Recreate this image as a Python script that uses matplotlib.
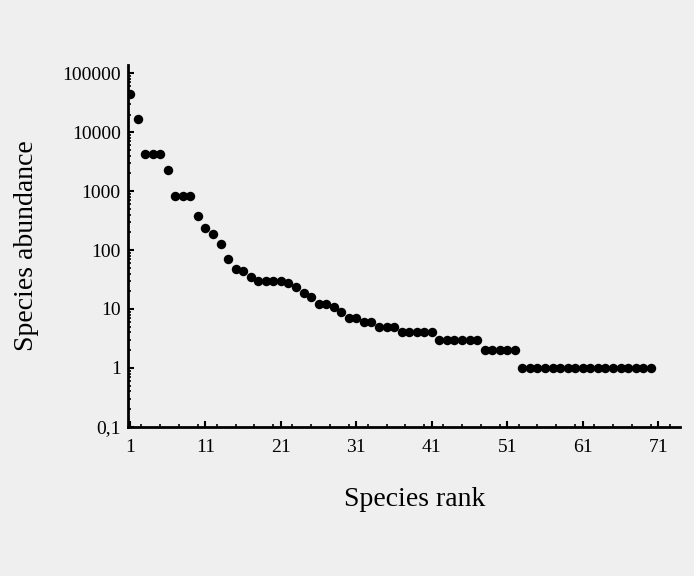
import numpy as np
import matplotlib
matplotlib.use('Agg')
import matplotlib.pyplot as plt
from matplotlib.ticker import FixedLocator, MultipleLocator, LogLocator, NullFormatter

# rank-abundance data
rank = list(range(1, 71))
abundance = ([45000, 17000, 4300, 4300, 4300, 2300, 820, 820, 820, 380,
              240, 190, 125, 70, 47, 45, 35, 30, 30, 30,
              30, 28, 24, 19, 16, 12, 12, 11, 9, 7,
              7, 6, 6, 5, 5, 5, 4, 4, 4, 4,
              4, 3, 3, 3, 3, 3, 3, 2, 2, 2,
              2, 2] + [1] * 18)

x_ticks = [1, 11, 21, 31, 41, 51, 61, 71]
y_ticks = [0.1, 1, 10, 100, 1000, 10000, 100000]
y_labels = ['0,1', '1', '10', '100', '1000', '10000', '100000']

plt.rcParams['font.family'] = ['Liberation Serif', 'DejaVu Serif']

fig = plt.figure(figsize=(6.94, 5.76), dpi=100, facecolor='#efefef')
ax = fig.add_axes([0.184, 0.259, 0.796, 0.628])
ax.set_facecolor('#efefef')

ax.plot(rank, abundance, 'o', color='black', markersize=6.8, markeredgewidth=0)

ax.set_yscale('log')
ax.set_ylim(0.1, 138000)
ax.set_xlim(0.7, 73.9)

ax.xaxis.set_major_locator(FixedLocator(x_ticks))
ax.xaxis.set_minor_locator(MultipleLocator(2.5))
ax.set_xticklabels([str(t) for t in x_ticks])
ax.yaxis.set_major_locator(FixedLocator(y_ticks))
ax.yaxis.set_minor_locator(LogLocator(base=10, subs=np.arange(2, 10) * 1.0, numticks=20))
ax.yaxis.set_minor_formatter(NullFormatter())
ax.set_yticklabels(y_labels)

for s in ['top', 'right']:
    ax.spines[s].set_visible(False)
for s in ['left', 'bottom']:
    ax.spines[s].set_linewidth(2)

ax.tick_params(axis='both', which='major', direction='in', length=4, width=1.5, labelsize=14)
ax.tick_params(axis='both', which='minor', direction='in', length=2.5, width=1.2)
ax.tick_params(axis='x', which='major', pad=9)
ax.tick_params(axis='y', which='major', pad=5)

ax.set_xlabel('Species rank', fontsize=20, labelpad=22)
ax.xaxis.label.set_x(0.52)
ax.set_ylabel('Species abundance', fontsize=20, labelpad=17)

fig.savefig('out.png', dpi=100, facecolor=fig.get_facecolor())
